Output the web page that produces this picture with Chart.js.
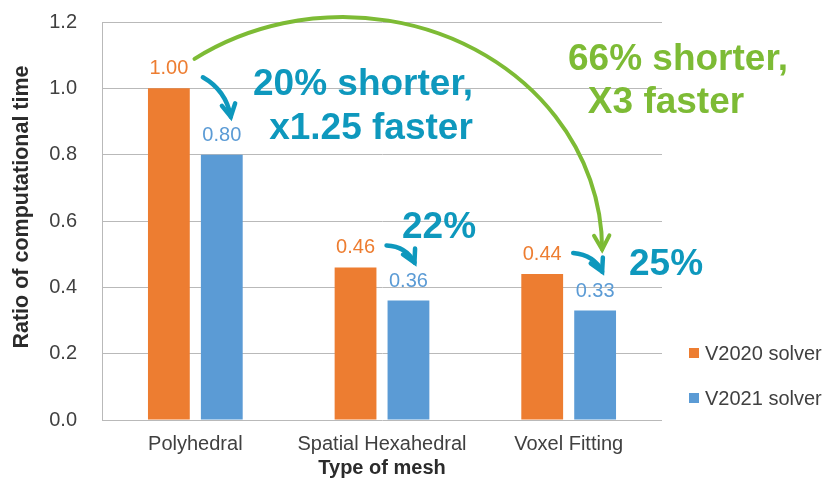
<!DOCTYPE html>
<html>
<head>
<meta charset="utf-8">
<script src="https://cdn.jsdelivr.net/npm/chart.js@4.4.1/dist/chart.umd.min.js"></script>
<style>
  html, body { margin: 0; padding: 0; background: #ffffff; }
  canvas { display: block; }
</style>
</head>
<body>
<canvas id="chart" width="833" height="481"></canvas>
<script>
// ---- data ----
const categories = ['Polyhedral', 'Spatial Hexahedral', 'Voxel Fitting'];
const seriesNames = ['V2020 solver', 'V2021 solver'];
const v2020 = [1.00, 0.46, 0.44];
const v2021 = [0.80, 0.36, 0.33];
const yTickValues = [0.0, 0.2, 0.4, 0.6, 0.8, 1.0, 1.2];
const xAxisTitle = 'Type of mesh';
const yAxisTitle = 'Ratio of computational time';

// ---- styling ----
const FONT = "'Liberation Sans', Arial, sans-serif";
const ORANGE = '#ED7D31';
const BLUE = '#5B9BD5';
const TEAL = '#0E98BD';
const GREEN = '#7DBB35';
const GRID = '#B9B9B9';
const TICK_TEXT = '#404040';
const TITLE_TEXT = '#2B2B2B';

// Callout headlines (pixel anchors for each text line).
const callouts = [
  { color: TEAL,  lines: [['20% shorter,', 363, 95], ['x1.25 faster', 371, 139]] },
  { color: GREEN, lines: [['66% shorter,', 678, 70], ['X3 faster', 666, 113]] },
  { color: TEAL,  lines: [['22%', 439, 238]] },
  { color: TEAL,  lines: [['25%', 666, 275]] }
];

// Short curved arrows: from the V2020 bar top to the V2021 bar top of the same category.
// Offsets are in pixels relative to the bar tops; ctrl is relative to the start point.
const pairArrows = [
  { cat: 0, start: [34, -11], ctrl: [23, 13], end: [9, -38] },
  { cat: 1, start: [31, -22], ctrl: [20, 1],  end: [6, -38] },
  { cat: 2, start: [31, -21], ctrl: [21, 2],  end: [7, -39] }
];

function drawChevron(ctx, tip, angle, len, spread) {
  ctx.beginPath();
  ctx.moveTo(tip.x - len * Math.cos(angle - spread), tip.y - len * Math.sin(angle - spread));
  ctx.lineTo(tip.x, tip.y);
  ctx.lineTo(tip.x - len * Math.cos(angle + spread), tip.y - len * Math.sin(angle + spread));
  ctx.stroke();
}

const overlayPlugin = {
  id: 'overlay',
  afterDatasetsDraw(chart) {
    const ctx = chart.ctx;
    const metaA = chart.getDatasetMeta(0);
    const metaB = chart.getDatasetMeta(1);

    // value labels above each bar
    ctx.save();
    ctx.font = '20px ' + FONT;
    ctx.textAlign = 'center';
    ctx.textBaseline = 'alphabetic';
    chart.data.datasets.forEach((ds, di) => {
      const meta = chart.getDatasetMeta(di);
      ctx.fillStyle = ds.backgroundColor;
      meta.data.forEach((el, i) => {
        ctx.fillText(ds.data[i].toFixed(2), el.x, el.y - 14);
      });
    });
    ctx.restore();

    // big arc: V2020 Polyhedral -> V2021 Voxel Fitting
    ctx.save();
    ctx.strokeStyle = GREEN;
    ctx.lineWidth = 4;
    ctx.lineCap = 'round';
    ctx.lineJoin = 'miter';
    const s = { x: metaA.data[0].x + 26, y: metaA.data[0].y - 29 };
    const e = { x: metaB.data[2].x + 7, y: metaB.data[2].y - 61 };
    const cx = s.x + 148, cy = e.y;
    const rx = e.x - cx, ry = cy - chart.scales.y.getPixelForValue(1.215);
    const a0 = Math.atan2((s.y - cy) / ry, (s.x - cx) / rx);
    ctx.beginPath();
    ctx.ellipse(cx, cy, rx, ry, 0, a0, 0, false);
    ctx.stroke();
    drawChevron(ctx, { x: cx + rx, y: cy }, Math.PI / 2 - 0.03, 16, 0.5);
    ctx.restore();

    // small teal arrows
    ctx.save();
    ctx.strokeStyle = TEAL;
    ctx.lineWidth = 4.5;
    ctx.lineCap = 'round';
    ctx.lineJoin = 'miter';
    pairArrows.forEach(a => {
      const o = metaA.data[a.cat], b = metaB.data[a.cat];
      const p0 = { x: o.x + a.start[0], y: o.y + a.start[1] };
      const p1 = { x: p0.x + a.ctrl[0], y: p0.y + a.ctrl[1] };
      const p2 = { x: b.x + a.end[0], y: b.y + a.end[1] };
      ctx.beginPath();
      ctx.moveTo(p0.x, p0.y);
      ctx.quadraticCurveTo(p1.x, p1.y, p2.x, p2.y);
      ctx.stroke();
      drawChevron(ctx, p2, Math.atan2(p2.y - p1.y, p2.x - p1.x), 14, 0.5);
    });
    ctx.restore();

    // headline texts
    ctx.save();
    ctx.font = 'bold 37px ' + FONT;
    ctx.textAlign = 'center';
    ctx.textBaseline = 'alphabetic';
    callouts.forEach(c => {
      ctx.fillStyle = c.color;
      c.lines.forEach(([t, x, y]) => ctx.fillText(t, x, y));
    });
    ctx.restore();
  },
  afterDraw(chart) {
    const ctx = chart.ctx;
    const area = chart.chartArea;

    // vertical axis title
    ctx.save();
    ctx.font = 'bold 21.5px ' + FONT;
    ctx.fillStyle = TITLE_TEXT;
    ctx.textAlign = 'center';
    ctx.textBaseline = 'middle';
    ctx.translate(22, area.top + 185);
    ctx.rotate(-Math.PI / 2);
    ctx.fillText(yAxisTitle, 0, 0);
    ctx.restore();

    // legend, stacked at the lower right
    const x0 = area.right + 27;
    const rows = [360, 405];
    ctx.save();
    ctx.font = '20px ' + FONT;
    ctx.textAlign = 'left';
    ctx.textBaseline = 'alphabetic';
    chart.data.datasets.forEach((ds, i) => {
      ctx.fillStyle = ds.backgroundColor;
      ctx.fillRect(x0, rows[i] - 12, 10, 10);
      ctx.fillStyle = TICK_TEXT;
      ctx.fillText(ds.label, x0 + 16, rows[i]);
    });
    ctx.restore();
  }
};

new Chart(document.getElementById('chart'), {
  type: 'bar',
  data: {
    labels: categories,
    datasets: [
      { label: seriesNames[0], data: v2020, backgroundColor: ORANGE, categoryPercentage: 0.567, barPercentage: 0.79 },
      { label: seriesNames[1], data: v2021, backgroundColor: BLUE, categoryPercentage: 0.567, barPercentage: 0.79 }
    ]
  },
  options: {
    responsive: false,
    animation: false,
    devicePixelRatio: 1,
    layout: { padding: { top: 22, right: 171, bottom: 0, left: 0 } },
    plugins: {
      legend: { display: false },
      tooltip: { enabled: false }
    },
    scales: {
      x: {
        grid: { display: false, drawTicks: false },
        border: { display: false },
        ticks: { color: TICK_TEXT, font: { family: FONT, size: 20 }, padding: 12, maxRotation: 0 },
        title: { display: true, text: xAxisTitle, color: TITLE_TEXT, font: { family: FONT, size: 20, weight: 'bold' }, padding: { top: 0, bottom: 1 } },
        afterFit(scale) { scale.height = 61; scale.paddingLeft = 0; scale.paddingRight = 0; }
      },
      y: {
        min: 0,
        max: 1.2,
        afterBuildTicks(scale) { scale.ticks = yTickValues.map(v => ({ value: v })); },
        grid: { color: GRID, lineWidth: 1, drawTicks: false },
        border: { display: true, color: GRID, width: 1 },
        ticks: {
          color: TICK_TEXT,
          font: { family: FONT, size: 20 },
          padding: 25,
          callback: v => Number(v).toFixed(1)
        },
        title: { display: false },
        afterFit(scale) { scale.width = 102; scale.paddingTop = 0; scale.paddingBottom = 0; }
      }
    }
  },
  plugins: [overlayPlugin]
});
</script>
</body>
</html>
